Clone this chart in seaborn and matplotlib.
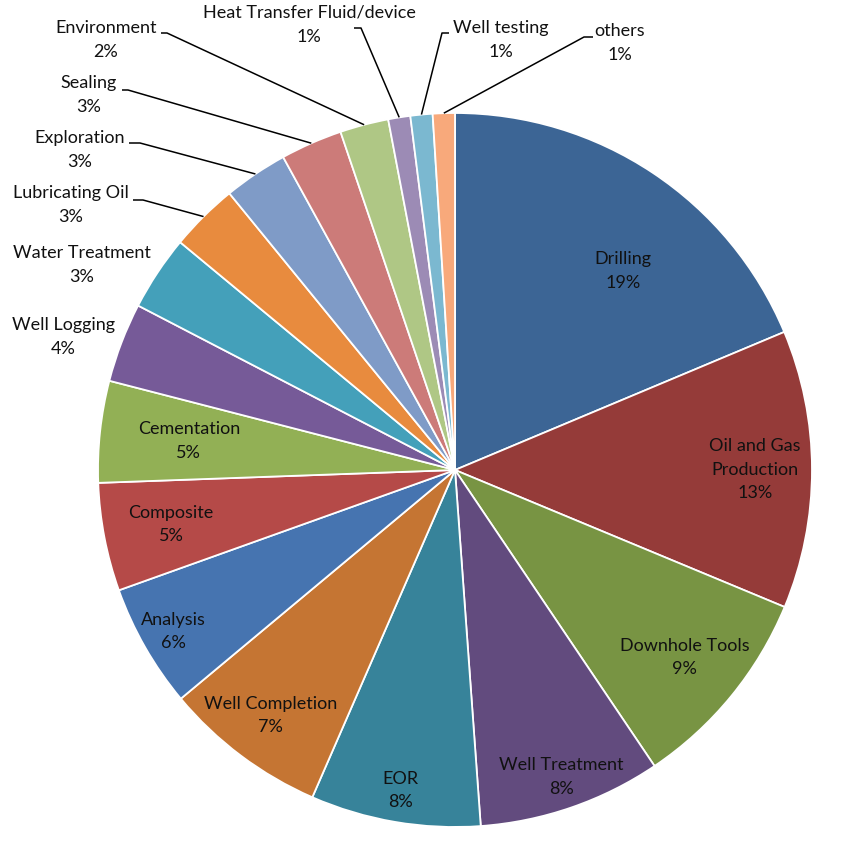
import numpy as np
import matplotlib
matplotlib.use("Agg")
import matplotlib.pyplot as plt
import seaborn as sns

# ---- data ----
categories = ["Drilling", "Oil and Gas\nProduction", "Downhole Tools", "Well Treatment", "EOR",
              "Well Completion", "Analysis", "Composite", "Cementation", "Well Logging",
              "Water Treatment", "Lubricating Oil", "Exploration", "Sealing", "Environment",
              "Heat Transfer Fluid/device", "Well testing", "others"]
values = [18.7, 12.6, 9.3, 8.3, 7.7, 7.4, 5.6, 4.9, 4.6, 3.6, 3.4, 3.1, 2.9, 2.8, 2.2, 1.0, 1.0, 1.0]
colors = ["#3C6595", "#953B39", "#789443", "#624B7E", "#37839A", "#C57533",
          "#4674B0", "#B54A48", "#92B055", "#765A98", "#44A0BA", "#E88B3E",
          "#7F9BC7", "#CC7B79", "#AFC785", "#9C8BB5", "#7BB8D0", "#F8A97B"]

# ---- layout (pixels) ----
W, H = 866, 844
CX, CY, R = 455, 470, 357
# inside labels: radial position (fraction of radius) and angular offset (deg, clockwise)
inside_r = [0.73, 0.84, 0.83, 0.91, 0.91, 0.86, 0.91, 0.81, 0.75]
inside_dtheta = [6.6, 0, 0, 0, 0, 0, 0, 0, 0]
# outside labels: text centre (first line), leader start, elbow x
outside_text = [(63, 325), (82, 253), (71, 193), (80, 138), (89, 83), (106, 28), (309, 13), (501, 28), (620, 31)]
outside_lead = [None, None, (133, 200), (129, 143), (122, 90), (161, 33), (354, 28), (449, 33), (593, 37)]
outside_elbow = [None, None, 143, 140, 128, 167, 361, 442, 584]


def px(x, y):
    return (x - CX) / R, (CY - y) / R


sns.set_theme(style="white")
plt.rcParams['font.family'] = ['Lato', 'DejaVu Sans']

fig = plt.figure(figsize=(W / 100, H / 100), dpi=100)
ax = fig.add_axes([0, 0, 1, 1])
wedges, _ = ax.pie(values, colors=colors, startangle=90, counterclock=False, radius=1,
                   wedgeprops=dict(edgecolor="white", linewidth=1.3))
ax.set_xlim(-CX / R, (W - CX) / R)
ax.set_ylim(-(H - CY) / R, CY / R)
ax.axis("off")

total = sum(values)
pcts = [f"{round(v / total * 100):.0f}%" for v in values]
fs = 13

n_in = len(inside_r)
for i, w in enumerate(wedges):
    mid = np.deg2rad((w.theta1 + w.theta2) / 2)
    if i < n_in:
        ang = mid - np.deg2rad(inside_dtheta[i])
        r = inside_r[i]
        ax.text(r * np.cos(ang), r * np.sin(ang), f"{categories[i]}\n{pcts[i]}",
                ha="center", va="center", fontsize=fs, color="#111111", linespacing=1.55)
    else:
        j = i - n_in
        tx, ty = outside_text[j]
        x, y = px(tx, ty)
        ax.text(x, y, categories[i], ha="center", va="center", fontsize=fs, color="#111111")
        x2, y2 = px(tx, ty + 24)
        ax.text(x2, y2, pcts[i], ha="center", va="center", fontsize=fs, color="#111111")
        if outside_lead[j] is not None:
            sx, sy = px(*outside_lead[j])
            ex, _ = px(outside_elbow[j], 0)
            wx, wy = np.cos(mid), np.sin(mid)
            ax.plot([sx, ex, wx], [sy, sy, wy], color="black", lw=1.1, solid_capstyle="butt")

fig.savefig("out.png", dpi=100, facecolor="white")
